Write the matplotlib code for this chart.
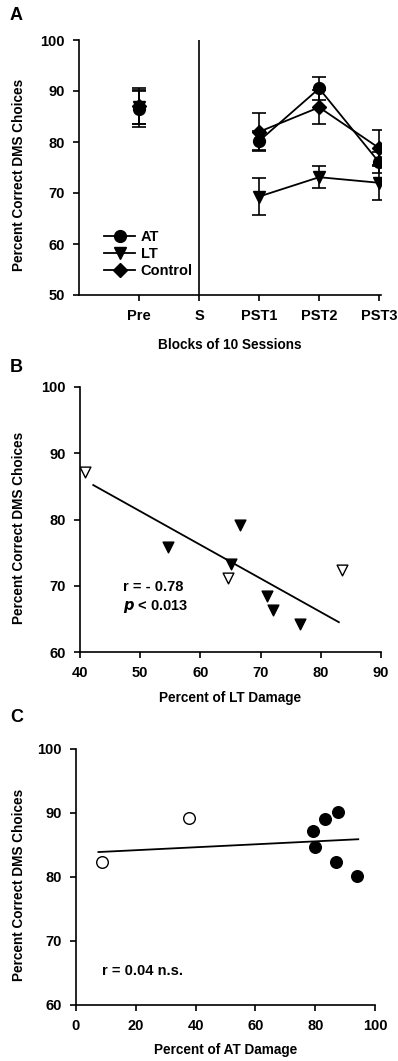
import matplotlib
matplotlib.use("Agg")
import matplotlib.pyplot as plt
from matplotlib.lines import Line2D

plt.rcParams.update({
    'font.family': ['Liberation Sans', 'DejaVu Sans'],
    'font.weight': 'bold',
    'font.size': 10,
    'axes.linewidth': 1.2,
    'xtick.major.width': 1.2,
    'ytick.major.width': 1.2,
    'xtick.major.size': 4,
    'ytick.major.size': 4,
})

# Panel A: group means and SEM per block
blocks = ['Pre', 'S', 'PST1', 'PST2', 'PST3']
block_x = [1, 2, 3, 4, 5]
pre_x = [1]
post_x = [3, 4, 5]

at_pre, at_pre_err = [86.5], [3.5]
lt_pre, lt_pre_err = [86.8], [3.3]
ctl_pre, ctl_pre_err = [87.0], [3.5]

at_post = [80.2, 90.5, 76.0]
at_post_err = [1.9, 2.2, 2.0]
lt_post = [69.3, 73.1, 72.0]
lt_post_err = [3.6, 2.2, 3.4]
ctl_post = [82.0, 86.8, 78.8]
ctl_post_err = [3.6, 3.3, 3.6]

# Panel B: LT damage vs performance
lt_dmg_filled = [54.7, 66.5, 65.0, 71.0, 72.0, 76.5]
lt_perf_filled = [75.8, 79.1, 73.3, 68.4, 66.3, 64.3]
lt_dmg_open = [40.8, 64.6, 83.6]
lt_perf_open = [87.1, 71.2, 72.4]
lt_fit_x = [42.2, 83.0]
lt_fit_y = [85.2, 64.5]

# Panel C: AT damage vs performance
at_dmg_filled = [79.1, 79.8, 83.3, 87.5, 87.0, 94.1]
at_perf_filled = [87.2, 84.7, 89.0, 90.1, 82.3, 80.1]
at_dmg_open = [8.6, 37.8]
at_perf_open = [82.3, 89.2]
at_fit_x = [7.5, 94.4]
at_fit_y = [83.9, 85.9]

W, H = 398, 1061
fig = plt.figure(figsize=(W / 100, H / 100), dpi=100)


def px_axes(left, top, right, bottom):
    return fig.add_axes([left / W, 1 - bottom / H, (right - left) / W, (bottom - top) / H])


def style(ax, ylab_x):
    ax.spines['top'].set_visible(False)
    ax.spines['right'].set_visible(False)
    ax.tick_params(direction='out', labelsize=10.5, pad=6)
    for lbl in ax.get_xticklabels() + ax.get_yticklabels():
        lbl.set_fontweight('bold')
    ax.set_ylabel('Percent Correct DMS Choices', fontsize=9.8, fontweight='bold')
    ax.yaxis.set_label_coords(ylab_x, 0.47)


# ---- A ----
axA = px_axes(79, 40, 381, 295)
series = [
    (at_pre, at_pre_err, at_post, at_post_err, 'o', 'AT'),
    (lt_pre, lt_pre_err, lt_post, lt_post_err, 'v', 'LT'),
    (ctl_pre, ctl_pre_err, ctl_post, ctl_post_err, 'D', 'Control'),
]
for pre, pre_e, post, post_e, m, name in series:
    ms = 7.5 if m == 'D' else 8.5
    axA.errorbar(pre_x, pre, yerr=pre_e, fmt=m, color='black', ms=ms,
                 capsize=5, elinewidth=1.2, capthick=1.2)
    axA.errorbar(post_x, post, yerr=post_e, fmt='-' + m, color='black', ms=ms,
                 lw=1.3, capsize=5, elinewidth=1.2, capthick=1.2)
axA.axvline(2, color='black', lw=1.2)
axA.set_xlim(0, 5.03)
axA.set_ylim(50, 100)
axA.set_xticks(block_x)
axA.set_xticklabels(blocks)
axA.set_yticks([50, 60, 70, 80, 90, 100])
axA.set_xlabel('Blocks of 10 Sessions', fontsize=9.8, fontweight='bold', labelpad=11)
handles = [Line2D([], [], color='black', marker=m, ms=(7.5 if m == 'D' else 8.5), lw=1.3)
           for m in ['o', 'v', 'D']]
axA.legend(handles, ['AT', 'LT', 'Control'], loc='lower left', frameon=False,
           bbox_to_anchor=(0.04, 0.015), handlelength=2.1, handletextpad=0.4,
           labelspacing=0.2, prop={'weight': 'bold', 'size': 10.5})
style(axA, -0.175)

# ---- B ----
axB = px_axes(80, 387, 381, 652)
axB.plot(lt_fit_x, lt_fit_y, color='black', lw=1.3)
axB.scatter(lt_dmg_filled, lt_perf_filled, marker='v', s=60, color='black', zorder=3)
axB.scatter(lt_dmg_open, lt_perf_open, marker='v', s=60, facecolor='white',
            edgecolor='black', linewidth=1, zorder=3)
axB.set_xlim(40, 90)
axB.set_ylim(60, 100)
axB.set_xticks([40, 50, 60, 70, 80, 90])
axB.set_yticks([60, 70, 80, 90, 100])
axB.text(47.1, 69.8, 'r = - 0.78', fontsize=10.5, fontweight='bold', va='center')
axB.text(47.1, 66.8, r'$\boldsymbol{p}$ < 0.013', fontsize=10.5, fontweight='bold', va='center')
axB.set_xlabel('Percent of LT Damage', fontsize=9.8, fontweight='bold', labelpad=8)
style(axB, -0.18)

# ---- C ----
axC = px_axes(76, 749, 375, 1005)
axC.plot(at_fit_x, at_fit_y, color='black', lw=1.3)
axC.scatter(at_dmg_filled, at_perf_filled, marker='o', s=70, color='black', zorder=3)
axC.scatter(at_dmg_open, at_perf_open, marker='o', s=70, facecolor='white',
            edgecolor='black', linewidth=1, zorder=3)
axC.set_xlim(0, 100)
axC.set_ylim(60, 100)
axC.set_xticks([0, 20, 40, 60, 80, 100])
axC.set_yticks([60, 70, 80, 90, 100])
axC.text(8.6, 65.3, 'r = 0.04 n.s.', fontsize=10.5, fontweight='bold', va='center')
axC.set_xlabel('Percent of AT Damage', fontsize=9.8, fontweight='bold', labelpad=7)
style(axC, -0.168)

for lab, y in [('A', 15), ('B', 367), ('C', 717)]:
    fig.text(10 / W, 1 - y / H, lab, fontsize=13, fontweight='bold', va='center')

fig.savefig('out.png', dpi=100)
